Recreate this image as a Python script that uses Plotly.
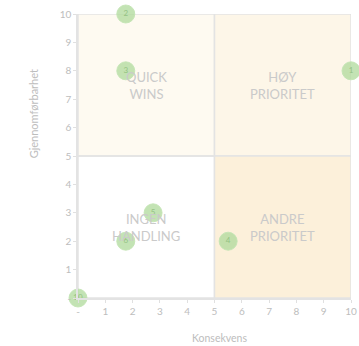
import plotly.graph_objects as go

# Risk/priority matrix: consequence (x) vs. feasibility (y)
item_ids = ["1", "2", "3", "4", "5", "6", "10"]
konsekvens = [10, 1.75, 1.75, 5.5, 2.75, 1.75, 0]
gjennomforbarhet = [8, 10, 8, 2, 3, 2, 0]

tick_values = [0, 1, 2, 3, 4, 5, 6, 7, 8, 9, 10]
tick_labels = ["-", "1", "2", "3", "4", "5", "6", "7", "8", "9", "10"]

quadrant_names = ["QUICK<br>WINS", "HØY<br>PRIORITET", "INGEN<br>HANDLING", "ANDRE<br>PRIORITET"]
quadrant_x = [2.5, 7.5, 2.5, 7.5]
quadrant_y = [7.5, 7.5, 2.5, 2.5]
quadrant_fill = ["#FEFAF1", "#FDF6E8", "rgba(0,0,0,0)", "#FCF0DA"]

FONT = "Lato, 'Open Sans', sans-serif"
LINE = "#E3E3E3"

fig = go.Figure()

# quadrant backgrounds
for qx, qy, fill in zip(quadrant_x, quadrant_y, quadrant_fill):
    fig.add_shape(type="rect", xref="x", yref="y",
                  x0=qx - 2.5, x1=qx + 2.5, y0=qy - 2.5, y1=qy + 2.5,
                  fillcolor=fill, line=dict(color=LINE, width=1.5), layer="below")

# quadrant captions
for name, qx, qy in zip(quadrant_names, quadrant_x, quadrant_y):
    fig.add_annotation(x=qx, y=qy, text=name, showarrow=False,
                       font=dict(family=FONT, size=13, color="#CACACA"))

fig.add_trace(go.Scatter(
    x=konsekvens, y=gjennomforbarhet, mode="markers+text",
    text=item_ids, textposition="middle center",
    textfont=dict(family=FONT, size=8, color="#93C283"),
    marker=dict(size=18, color="rgba(175,218,155,0.75)",
                line=dict(color="rgba(195,228,180,0.9)", width=1)),
    cliponaxis=False, hoverinfo="skip", showlegend=False,
))

axis_common = dict(
    range=[0, 10], tickvals=tick_values, ticktext=tick_labels,
    showgrid=False, zeroline=False, showline=True, linecolor=LINE, linewidth=1.5,
    ticks="outside", ticklen=3, tickcolor="#E0E0E0", automargin=False,
    tickfont=dict(family=FONT, size=10, color="#BDBDBD"), fixedrange=True,
)
fig.update_xaxes(**axis_common)
fig.update_yaxes(**axis_common)

fig.add_annotation(xref="paper", yref="paper", x=0.52, y=-0.141,
                   xanchor="center", yanchor="middle",
                   text="Konsekvens", showarrow=False,
                   font=dict(family=FONT, size=10.5, color="#BDBDBD"))
fig.add_annotation(xref="paper", yref="paper", x=-0.165, y=0.65,
                   xanchor="center", yanchor="middle",
                   text="Gjennomførbarhet", showarrow=False, textangle=-90,
                   font=dict(family=FONT, size=11, color="#BDBDBD"))

fig.update_layout(
    width=359, height=346,
    margin=dict(l=78, r=8, t=14, b=48),
    paper_bgcolor="white", plot_bgcolor="white",
)

fig.write_html("out.html")
